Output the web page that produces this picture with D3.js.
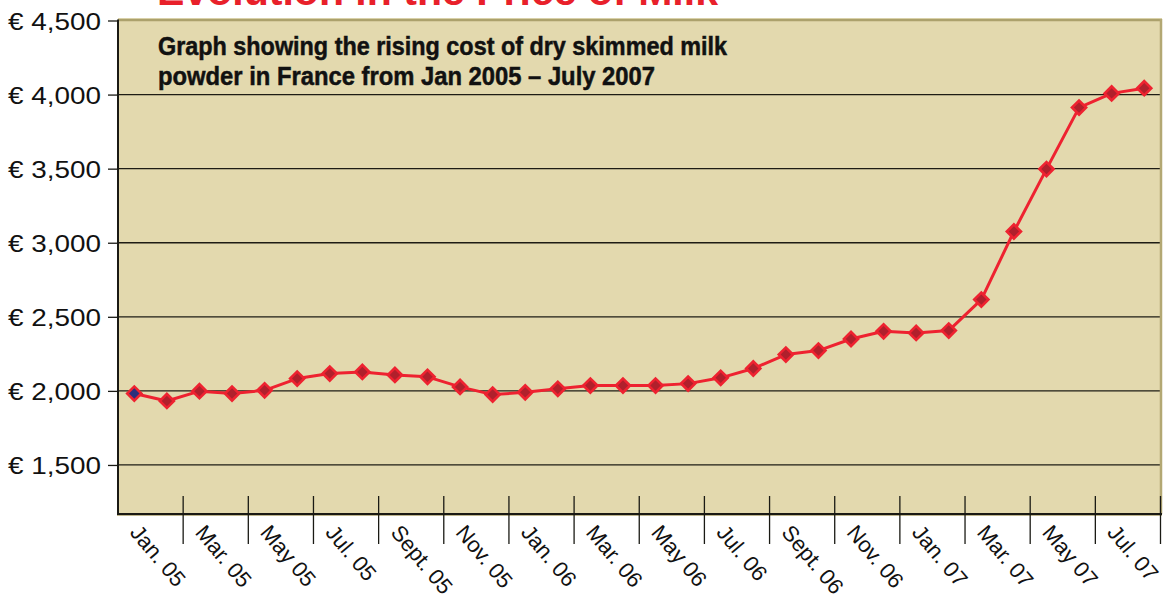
<!DOCTYPE html>
<html><head><meta charset="utf-8">
<script src="https://cdn.jsdelivr.net/npm/d3@7"></script>
<style>
html,body{margin:0;padding:0;background:#fff;}
svg{display:block;}
</style></head>
<body>
<svg id="chart" width="1163" height="598"></svg>
<script>
// ---- data ----
const months = ["Jan. 05","Feb. 05","Mar. 05","Apr. 05","May 05","Jun. 05","Jul. 05","Aug. 05","Sept. 05","Oct. 05","Nov. 05","Dec. 05",
  "Jan. 06","Feb. 06","Mar. 06","Apr. 06","May 06","Jun. 06","Jul. 06","Aug. 06","Sept. 06","Oct. 06","Nov. 06","Dec. 06",
  "Jan. 07","Feb. 07","Mar. 07","Apr. 07","May 07","Jun. 07","Jul. 07","Aug. 07"];
const prices = [1982,1932,1998,1982,2004,2083,2117,2128,2108,2095,2027,1975,
  1990,2014,2036,2036,2036,2049,2088,2151,2245,2272,2350,2402,
  2391,2407,2616,3076,3497,3912,4008,4043];
const tickLabels = ["Jan. 05","Mar. 05","May 05","Jul. 05","Sept. 05","Nov. 05","Jan. 06","Mar. 06","May 06","Jul. 06","Sept. 06","Nov. 06","Jan. 07","Mar. 07","May 07","Jul. 07"];
const yTicks = [1500,2000,2500,3000,3500,4000,4500];
const title = "Evolution in the Price of Milk";
const subtitle = ["Graph showing the rising cost of dry skimmed milk", "powder in France from Jan 2005 – July 2007"];

// ---- layout ----
const L = 118, R = 1160.5, T = 20.5, B = 514;
const svg = d3.select("#chart");
const x = d3.scaleBand().domain(months).range([L, R]).padding(0);
const y = d3.scaleLinear().domain([1169, 4500]).range([B, T]);

// plot background
svg.append("rect").attr("x", L).attr("y", T - 1).attr("width", R - L).attr("height", B - T + 1).attr("fill", "#e3d9ae");

// title (cut off at top, as in the original)
svg.append("text").attr("x", 157).attr("y", 5).attr("fill", "#e8202a")
  .attr("font-family", "Liberation Sans, Arial, sans-serif").attr("font-weight", "bold")
  .attr("font-size", 41).attr("textLength", 561).attr("lengthAdjust", "spacingAndGlyphs").text(title);

// gridlines
svg.append("g").selectAll("line").data(yTicks.filter(d => d < 4500)).join("line")
  .attr("x1", L).attr("x2", R).attr("y1", d => y(d)).attr("y2", d => y(d))
  .attr("stroke", "#1e1c14").attr("stroke-width", 1.3);

// top & right border
svg.append("line").attr("x1", L).attr("x2", R + 1.5).attr("y1", T - 0.5).attr("y2", T - 0.5)
  .attr("stroke", "#aca16c").attr("stroke-width", 2.5);
svg.append("line").attr("x1", L).attr("x2", R + 1.5).attr("y1", T - 2).attr("y2", T - 2)
  .attr("stroke", "#d9d1a9").attr("stroke-width", 1);
svg.append("line").attr("x1", R + 0.5).attr("x2", R + 0.5).attr("y1", T - 1.5).attr("y2", B)
  .attr("stroke", "#b3a873").attr("stroke-width", 2.5);

// y axis
const yAxis = d3.axisLeft(y).tickValues(yTicks).tickSize(10).tickFormat(d => "€ " + d3.format(",")(d));
const gy = svg.append("g").attr("transform", `translate(${L},0)`).call(yAxis);
gy.select(".domain").attr("stroke", "#1a1a14").attr("stroke-width", 2).attr("d", `M0,${T - 1}V${B}`);
gy.selectAll(".tick line").attr("stroke", "#1a1a14").attr("stroke-width", 1.3);
gy.selectAll(".tick text").attr("font-family", "Liberation Sans, Arial, sans-serif")
  .attr("font-size", 24).attr("fill", "#111").attr("x", -17).attr("dy", "0.36em")
  .attr("textLength", 93).attr("lengthAdjust", "spacingAndGlyphs");

// x axis
const xTickPos = months.filter((m, i) => i % 2 === 0).map(m => x(m));
xTickPos.push(R);
const gx = svg.append("g");
gx.append("line").attr("x1", L - 1).attr("x2", R + 1.5).attr("y1", B + 1).attr("y2", B + 1)
  .attr("stroke", "#a89d68").attr("stroke-width", 1.5);
gx.append("line").attr("x1", L - 1).attr("x2", R + 1.5).attr("y1", B).attr("y2", B)
  .attr("stroke", "#1a1a14").attr("stroke-width", 2);
gx.selectAll("line.tk").data(xTickPos.slice(1)).join("line").attr("class", "tk")
  .attr("x1", d => d).attr("x2", d => d).attr("y1", 496).attr("y2", 544)
  .attr("stroke", "#1a1a14").attr("stroke-width", 1.3);
gx.selectAll("text").data(tickLabels).join("text")
  .attr("transform", d => `translate(${x(d) + 11},${533}) rotate(50)`)
  .attr("font-family", "Liberation Sans, Arial, sans-serif").attr("font-size", 22).attr("fill", "#111")
  .text(d => d);

// subtitle
svg.append("g").selectAll("text").data(subtitle).join("text")
  .attr("x", 158).attr("y", (d, i) => 55 + i * 30)
  .attr("font-family", "Liberation Sans Narrow, Arial Narrow, sans-serif").attr("font-weight", "bold")
  .attr("font-size", 26).attr("fill", "#111").attr("stroke", "#111").attr("stroke-width", 0.5)
  .attr("textLength", (d, i) => i === 0 ? 569 : 497).attr("lengthAdjust", "spacingAndGlyphs")
  .text(d => d);

// line
const line = d3.line().x((d, i) => x(months[i]) + x.bandwidth() / 2).y(d => y(d));
svg.append("path").datum(prices).attr("d", line).attr("fill", "none")
  .attr("stroke", "#ee2230").attr("stroke-width", 3).attr("stroke-linejoin", "round");

// markers
svg.append("g").selectAll("path").data(prices).join("path")
  .attr("d", d3.symbol().type(d3.symbolSquare).size(100))
  .attr("transform", (d, i) => `translate(${x(months[i]) + x.bandwidth() / 2},${y(d)}) rotate(45)`)
  .attr("fill", (d, i) => i === 0 ? "#2a2f7c" : "#b0202c")
  .attr("stroke", "#ee2230").attr("stroke-width", 2.6);
</script>
</body></html>
